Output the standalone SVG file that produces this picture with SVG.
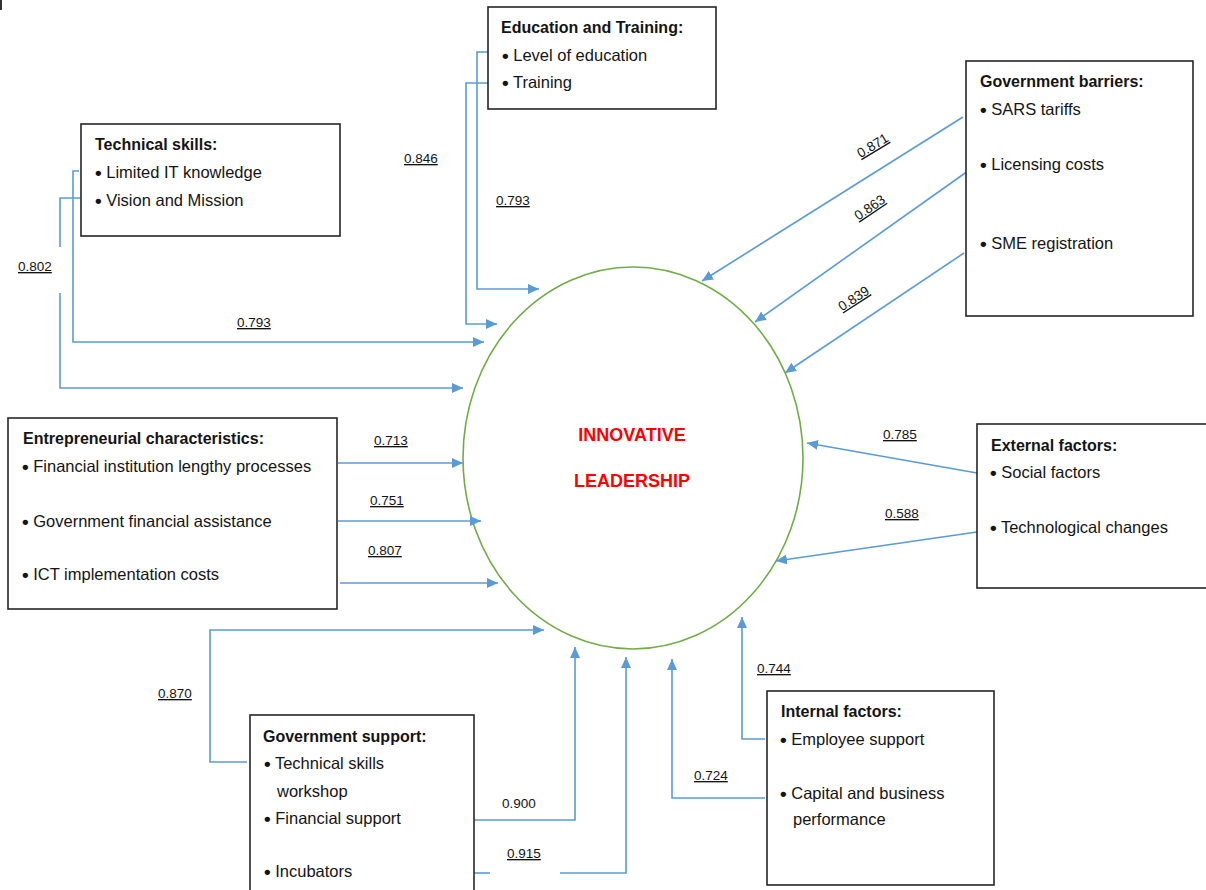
<svg xmlns="http://www.w3.org/2000/svg" width="1206" height="890" viewBox="0 0 1206 890">
  <style>
    .box { fill: #ffffff; stroke: #262626; stroke-width: 1.6; }
    .title { font-family: "Liberation Sans", Arial, sans-serif; font-size: 16px; font-weight: bold; fill: #141414; }
    .item { font-family: "Liberation Sans", Arial, sans-serif; font-size: 16.5px; fill: #141414; }
    .dot { font-size: 19px; font-weight: bold; }
    .val { font-family: "Liberation Sans", Arial, sans-serif; font-size: 13.5px; fill: #141414; text-decoration: underline; }
    .plain { font-family: "Liberation Sans", Arial, sans-serif; font-size: 13.5px; fill: #141414; }
    .link { fill: none; stroke: #5B9BD5; stroke-width: 1.6; }
    .core { font-family: "Liberation Sans", Arial, sans-serif; font-size: 18px; font-weight: bold; fill: #FF0000; text-anchor: middle; }
  </style>
  <defs>
    <marker id="arrow" markerUnits="userSpaceOnUse" markerWidth="11" markerHeight="10" refX="11" refY="5" orient="auto">
      <path d="M0,0 L11,5 L0,10 z" fill="#5B9BD5"/>
    </marker>
  </defs>

  <rect width="1206" height="890" fill="#ffffff"/>
  <rect x="0" y="0" width="2" height="10" fill="#333333"/>

  <!-- central construct -->
  <g id="innovative-leadership">
    <ellipse cx="633" cy="458" rx="170" ry="191" fill="none" stroke="#70AD47" stroke-width="1.6"/>
    <text class="core" x="632" y="441">INNOVATIVE</text>
    <text class="core" x="632" y="487">LEADERSHIP</text>
  </g>

  <!-- connectors -->
  <g id="connectors">
    <!-- technical skills -->
    <path class="link" d="M79,171 H73 V342 H484" marker-end="url(#arrow)"/>
    <path class="link" d="M80,198 H60 V247"/>
    <path class="link" d="M60,293 V388 H463" marker-end="url(#arrow)"/>
    <!-- education and training -->
    <path class="link" d="M488,52 H477 V289 H539" marker-end="url(#arrow)"/>
    <path class="link" d="M488,83 H466 V324 H497" marker-end="url(#arrow)"/>
    <!-- government barriers -->
    <path class="link" d="M963,117 L702,281" marker-end="url(#arrow)"/>
    <path class="link" d="M968,171 L755,322" marker-end="url(#arrow)"/>
    <path class="link" d="M964,253 L785,373" marker-end="url(#arrow)"/>
    <!-- entrepreneurial characteristics -->
    <path class="link" d="M338,463 H463" marker-end="url(#arrow)"/>
    <path class="link" d="M338,521 H481" marker-end="url(#arrow)"/>
    <path class="link" d="M340,583 H498" marker-end="url(#arrow)"/>
    <!-- external factors -->
    <path class="link" d="M977,473 L807,443" marker-end="url(#arrow)"/>
    <path class="link" d="M977,532 L776,561" marker-end="url(#arrow)"/>
    <!-- government support -->
    <path class="link" d="M247,762 H210 V630 H544" marker-end="url(#arrow)"/>
    <path class="link" d="M474,820 H575 V647" marker-end="url(#arrow)"/>
    <path class="link" d="M474,873 H490"/>
    <path class="link" d="M560,873 H626 V657" marker-end="url(#arrow)"/>
    <!-- internal factors -->
    <path class="link" d="M765,739 H742 V617" marker-end="url(#arrow)"/>
    <path class="link" d="M765,798 H672 V659" marker-end="url(#arrow)"/>
  </g>

  <!-- loading values -->
  <g id="loadings">
    <text class="val" x="404" y="163">0.846</text>
    <text class="val" x="496" y="205">0.793</text>
    <text class="val" x="18" y="271">0.802</text>
    <text class="val" x="237" y="327">0.793</text>
    <text class="val" x="873" y="150" text-anchor="middle" transform="rotate(-31 873 146)">0.871</text>
    <text class="val" x="870" y="212" text-anchor="middle" transform="rotate(-34 870 208)">0.863</text>
    <text class="val" x="854" y="303" text-anchor="middle" transform="rotate(-33 854 299)">0.839</text>
    <text class="val" x="374" y="445">0.713</text>
    <text class="val" x="370" y="505">0.751</text>
    <text class="val" x="368" y="555">0.807</text>
    <text class="val" x="883" y="439">0.785</text>
    <text class="val" x="885" y="518">0.588</text>
    <text class="val" x="158" y="698">0.870</text>
    <text class="plain" x="502" y="808">0.900</text>
    <text class="val" x="507" y="858">0.915</text>
    <text class="val" x="757" y="673">0.744</text>
    <text class="val" x="694" y="780">0.724</text>
  </g>

  <g id="education-training">
    <rect class="box" x="488" y="7" width="228" height="102"/>
    <text class="title" x="501" y="33">Education and Training:</text>
    <text class="item" x="502" y="61"><tspan class="dot" dy="0.7">•</tspan><tspan dy="-0.7"> Level of education</tspan></text>
    <text class="item" x="502" y="88"><tspan class="dot" dy="0.7">•</tspan><tspan dy="-0.7"> Training</tspan></text>
  </g>

  <g id="technical-skills">
    <rect class="box" x="81" y="124" width="259" height="112"/>
    <text class="title" x="95" y="150">Technical skills:</text>
    <text class="item" x="95" y="178"><tspan class="dot" dy="0.7">•</tspan><tspan dy="-0.7"> Limited IT knowledge</tspan></text>
    <text class="item" x="95" y="206"><tspan class="dot" dy="0.7">•</tspan><tspan dy="-0.7"> Vision and Mission</tspan></text>
  </g>

  <g id="government-barriers">
    <rect class="box" x="966" y="61" width="227" height="255"/>
    <text class="title" x="980" y="87">Government barriers:</text>
    <text class="item" x="980" y="115"><tspan class="dot" dy="0.7">•</tspan><tspan dy="-0.7"> SARS tariffs</tspan></text>
    <text class="item" x="980" y="170"><tspan class="dot" dy="0.7">•</tspan><tspan dy="-0.7"> Licensing costs</tspan></text>
    <text class="item" x="980" y="249"><tspan class="dot" dy="0.7">•</tspan><tspan dy="-0.7"> SME registration</tspan></text>
  </g>

  <g id="entrepreneurial-characteristics">
    <rect class="box" x="8" y="418" width="329" height="191"/>
    <text class="title" x="23" y="444">Entrepreneurial characteristics:</text>
    <text class="item" x="22" y="472"><tspan class="dot" dy="0.7">•</tspan><tspan dy="-0.7"> Financial institution lengthy processes</tspan></text>
    <text class="item" x="22" y="527"><tspan class="dot" dy="0.7">•</tspan><tspan dy="-0.7"> Government financial assistance</tspan></text>
    <text class="item" x="22" y="580"><tspan class="dot" dy="0.7">•</tspan><tspan dy="-0.7"> ICT implementation costs</tspan></text>
  </g>

  <g id="external-factors">
    <rect class="box" x="977" y="424" width="240" height="164"/>
    <text class="title" x="991" y="451">External factors:</text>
    <text class="item" x="990" y="478"><tspan class="dot" dy="0.7">•</tspan><tspan dy="-0.7"> Social factors</tspan></text>
    <text class="item" x="990" y="533"><tspan class="dot" dy="0.7">•</tspan><tspan dy="-0.7"> Technological changes</tspan></text>
  </g>

  <g id="government-support">
    <rect class="box" x="250" y="715" width="224" height="200"/>
    <text class="title" x="263" y="742">Government support:</text>
    <text class="item" x="264" y="769"><tspan class="dot" dy="0.7">•</tspan><tspan dy="-0.7"> Technical skills</tspan></text>
    <text class="item" x="277" y="797">workshop</text>
    <text class="item" x="264" y="824"><tspan class="dot" dy="0.7">•</tspan><tspan dy="-0.7"> Financial support</tspan></text>
    <text class="item" x="264" y="877"><tspan class="dot" dy="0.7">•</tspan><tspan dy="-0.7"> Incubators</tspan></text>
  </g>

  <g id="internal-factors">
    <rect class="box" x="767" y="691" width="227" height="194"/>
    <text class="title" x="781" y="717">Internal factors:</text>
    <text class="item" x="780" y="745"><tspan class="dot" dy="0.7">•</tspan><tspan dy="-0.7"> Employee support</tspan></text>
    <text class="item" x="780" y="799"><tspan class="dot" dy="0.7">•</tspan><tspan dy="-0.7"> Capital and business</tspan></text>
    <text class="item" x="793" y="825">performance</text>
  </g>
</svg>
